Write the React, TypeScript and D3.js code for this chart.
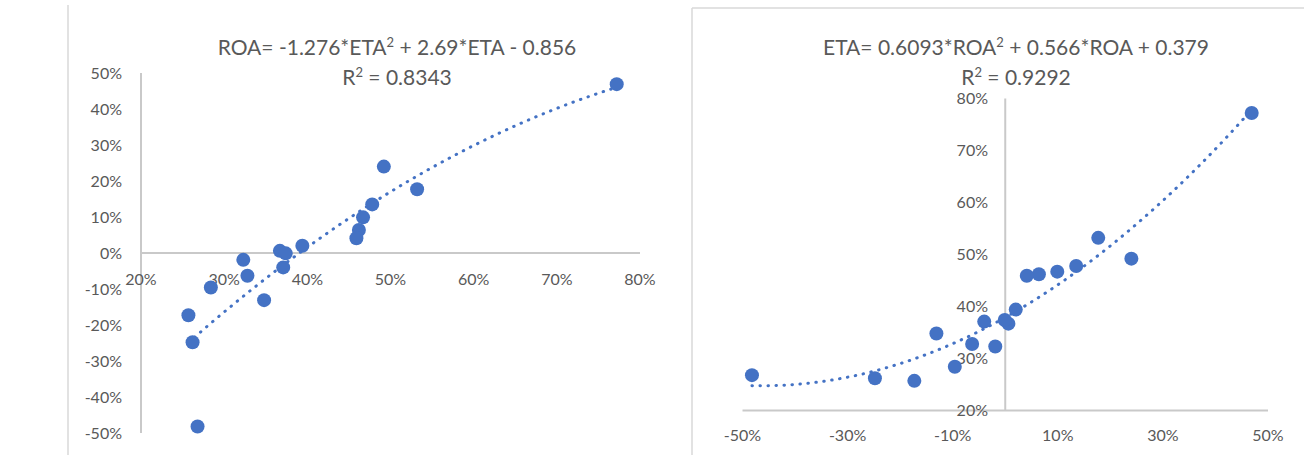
import React from "react";
import * as d3 from "d3";

// Data (shared by both charts)
const eta = [0.492, 0.532, 0.478, 0.467, 0.462, 0.459, 0.394, 0.367, 0.374, 0.323, 0.328, 0.371, 0.284, 0.348, 0.257, 0.262, 0.268, 0.772];
const roa = [0.240, 0.177, 0.135, 0.099, 0.064, 0.041, 0.020, 0.006, -0.001, -0.019, -0.063, -0.040, -0.096, -0.131, -0.173, -0.248, -0.482, 0.469];

const leftXTicks = [0.2, 0.3, 0.4, 0.5, 0.6, 0.7, 0.8];
const leftYTicks = [-0.5, -0.4, -0.3, -0.2, -0.1, 0, 0.1, 0.2, 0.3, 0.4, 0.5];
const rightXTicks = [-0.5, -0.3, -0.1, 0.1, 0.3, 0.5];
const rightYTicks = [0.2, 0.3, 0.4, 0.5, 0.6, 0.7, 0.8];

const leftCoef = [-1.276, 2.69, -0.856];
const rightCoef = [0.6093, 0.566, 0.379];

const BLUE = "#4472C4";
const TXT = "#595959";
const AX = "#c9c9c9";
const FONT = "Lato, 'Open Sans', sans-serif";
const TITLE_FS = 21;
const SUP_FS = 13;
const TICK_FS = 16;

const fmt = d3.format(".0%");
const pct = (v: number) => fmt(v).replace("\u2212", "-");

function quad(c: number[], v: number) {
  return c[0] * v * v + c[1] * v + c[2];
}

export default function App() {
  // left chart scales
  const lx = d3.scaleLinear().domain([0.2, 0.8]).range([141, 640]);
  const ly = d3.scaleLinear().domain([-0.5, 0.5]).range([433, 73]);
  // right chart scales
  const rx = d3.scaleLinear().domain([-0.5, 0.5]).range([742.5, 1268]);
  const ry = d3.scaleLinear().domain([0.2, 0.8]).range([410.5, 98.5]);

  const etaMin = d3.min(eta)!, etaMax = d3.max(eta)!;
  const roaMin = d3.min(roa)!, roaMax = d3.max(roa)!;

  const leftTrend = d3.range(0, 101).map((i) => {
    const v = etaMin + ((etaMax - etaMin) * i) / 100;
    return [lx(v), ly(quad(leftCoef, v))] as [number, number];
  });
  const rightTrend = d3.range(0, 101).map((i) => {
    const v = roaMin + ((roaMax - roaMin) * i) / 100;
    return [rx(v), ry(quad(rightCoef, v))] as [number, number];
  });
  const line = d3.line();

  return (
    <div style={{ position: "fixed", left: 0, top: 0 }}>
      <svg width={1304} height={455} style={{ display: "block", background: "#fff" }} fontFamily={FONT}>
        {/* frames */}
        <line x1={68} x2={68} y1={5} y2={455} stroke="#d9d9d9" strokeWidth={1.5} />
        <line x1={692} x2={692} y1={8} y2={455} stroke="#d9d9d9" strokeWidth={1.5} />
        <line x1={692} x2={1304} y1={8} y2={8} stroke="#d9d9d9" strokeWidth={1.5} />

        {/* LEFT CHART */}
        <text x={397} y={55} textAnchor="middle" fontSize={TITLE_FS} fill={TXT}>
          ROA= -1.276*ETA<tspan fontSize={SUP_FS} dy={-8}>2</tspan><tspan dy={8}> + 2.69*ETA - 0.856</tspan>
        </text>
        <text x={397} y={85} textAnchor="middle" fontSize={TITLE_FS} fill={TXT}>
          R<tspan fontSize={SUP_FS} dy={-8}>2</tspan><tspan dy={8}> = 0.8343</tspan>
        </text>
        <line x1={lx(0.2)} x2={lx(0.2)} y1={ly(0.5)} y2={ly(-0.5)} stroke={AX} strokeWidth={2} />
        <line x1={lx(0.2)} x2={lx(0.8)} y1={ly(0)} y2={ly(0)} stroke={AX} strokeWidth={2} />
        {leftYTicks.map((t) => (
          <text key={"ly" + t} x={122} y={ly(t)} dy="0.36em" textAnchor="end" fontSize={TICK_FS} fill={TXT}>
            {pct(t)}
          </text>
        ))}
        {leftXTicks.map((t) => (
          <text key={"lx" + t} x={lx(t)} y={ly(0) + 26} dy="0.36em" textAnchor="middle" fontSize={TICK_FS} fill={TXT}>
            {pct(t)}
          </text>
        ))}
        <path d={line(leftTrend)!} fill="none" stroke={BLUE} strokeWidth={3} strokeLinecap="round" strokeDasharray="0.5 7.5" />
        {eta.map((e, i) => (
          <circle key={"lp" + i} cx={lx(e)} cy={ly(roa[i])} r={7} fill={BLUE} />
        ))}

        {/* RIGHT CHART */}
        <text x={1016} y={55} textAnchor="middle" fontSize={TITLE_FS} fill={TXT}>
          ETA= 0.6093*ROA<tspan fontSize={SUP_FS} dy={-8}>2</tspan><tspan dy={8}> + 0.566*ROA + 0.379</tspan>
        </text>
        <text x={1016} y={85} textAnchor="middle" fontSize={TITLE_FS} fill={TXT}>
          R<tspan fontSize={SUP_FS} dy={-8}>2</tspan><tspan dy={8}> = 0.9292</tspan>
        </text>
        <line x1={rx(0)} x2={rx(0)} y1={ry(0.8)} y2={ry(0.2)} stroke={AX} strokeWidth={2} />
        <line x1={rx(-0.5)} x2={rx(0.5)} y1={ry(0.2)} y2={ry(0.2)} stroke={AX} strokeWidth={2} />
        {rightYTicks.map((t) => (
          <text key={"ry" + t} x={988} y={ry(t)} dy="0.36em" textAnchor="end" fontSize={TICK_FS} fill={TXT}>
            {pct(t)}
          </text>
        ))}
        {rightXTicks.map((t) => (
          <text key={"rx" + t} x={rx(t)} y={ry(0.2) + 25} dy="0.36em" textAnchor="middle" fontSize={TICK_FS} fill={TXT}>
            {pct(t)}
          </text>
        ))}
        <path d={line(rightTrend)!} fill="none" stroke={BLUE} strokeWidth={3} strokeLinecap="round" strokeDasharray="0.5 7.5" />
        {roa.map((r, i) => (
          <circle key={"rp" + i} cx={rx(r)} cy={ry(eta[i])} r={7} fill={BLUE} />
        ))}
      </svg>
    </div>
  );
}
